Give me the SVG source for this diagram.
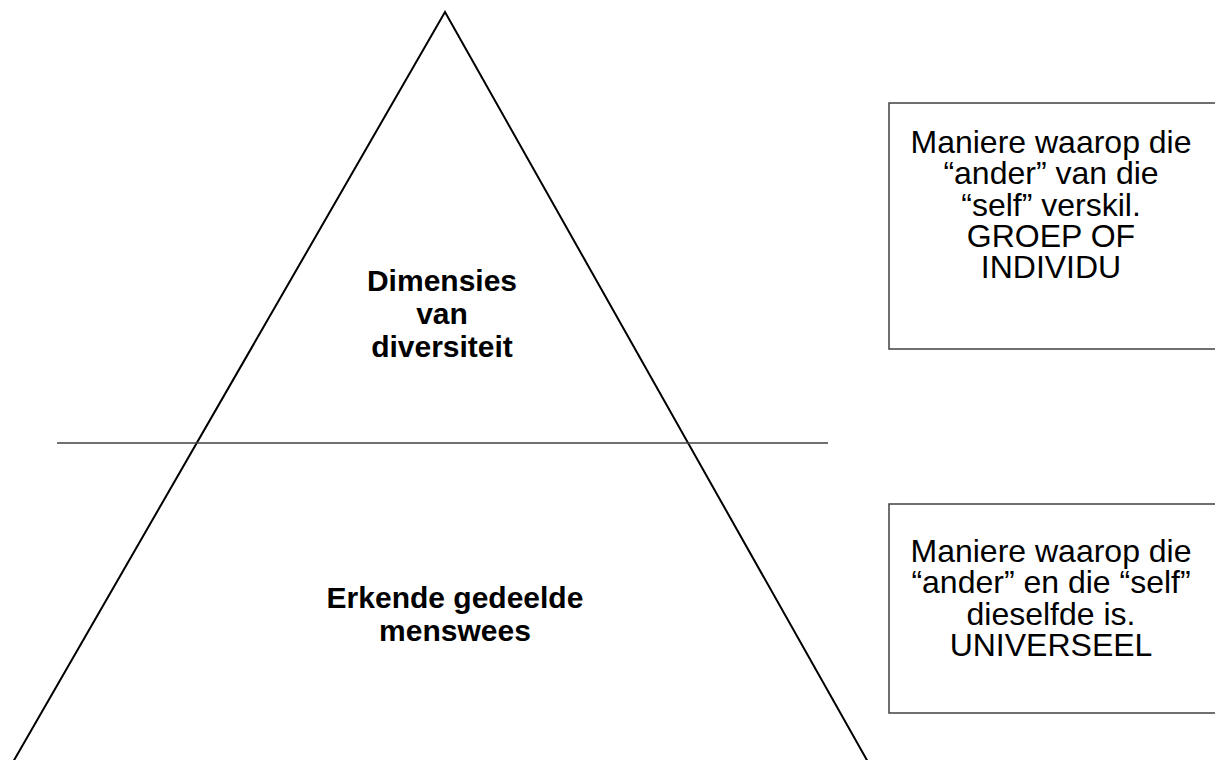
<svg xmlns="http://www.w3.org/2000/svg" width="1215" height="760" viewBox="0 0 1215 760">
<style>
.tri{fill:none;stroke:#000;stroke-width:2}
.sep{stroke:#404040;stroke-width:1.5}
.box{fill:#fff;stroke:#404040;stroke-width:1.5}
.bold{font-family:"Liberation Sans",Arial,sans-serif;font-weight:bold;font-size:30px;fill:#000;text-anchor:middle}
.reg{font-family:"Liberation Sans",Arial,sans-serif;font-size:32px;fill:#000;text-anchor:middle}
</style>
<rect width="1215" height="760" fill="#fff"/>
<g id="pyramid">
<polyline class="tri" points="13,762 445,12 868,762"/>
</g>
<g id="connectors">
<line class="sep" x1="57" y1="443" x2="828" y2="443"/>
</g>
<g id="top-label">
<text class="bold" x="442"><tspan x="442" y="291">Dimensies</tspan><tspan x="442" y="324">van</tspan><tspan x="442" y="357">diversiteit</tspan></text>
</g>
<g id="bottom-label">
<text class="bold" x="455"><tspan x="455" y="608">Erkende gedeelde</tspan><tspan x="455" y="641">menswees</tspan></text>
</g>
<g id="box-top">
<rect class="box" x="889" y="103" width="330" height="246"/>
<text class="reg"><tspan x="1051" y="153">Maniere waarop die</tspan><tspan x="1051" y="184">“ander” van die</tspan><tspan x="1051" y="216">“self” verskil.</tspan><tspan x="1051" y="247">GROEP OF</tspan><tspan x="1051" y="278">INDIVIDU</tspan></text>
</g>
<g id="box-bottom">
<rect class="box" x="889" y="504" width="330" height="209"/>
<text class="reg"><tspan x="1051" y="562">Maniere waarop die</tspan><tspan x="1051" y="593">“ander” en die “self”</tspan><tspan x="1051" y="625">dieselfde is.</tspan><tspan x="1051" y="656">UNIVERSEEL</tspan></text>
</g>
</svg>
